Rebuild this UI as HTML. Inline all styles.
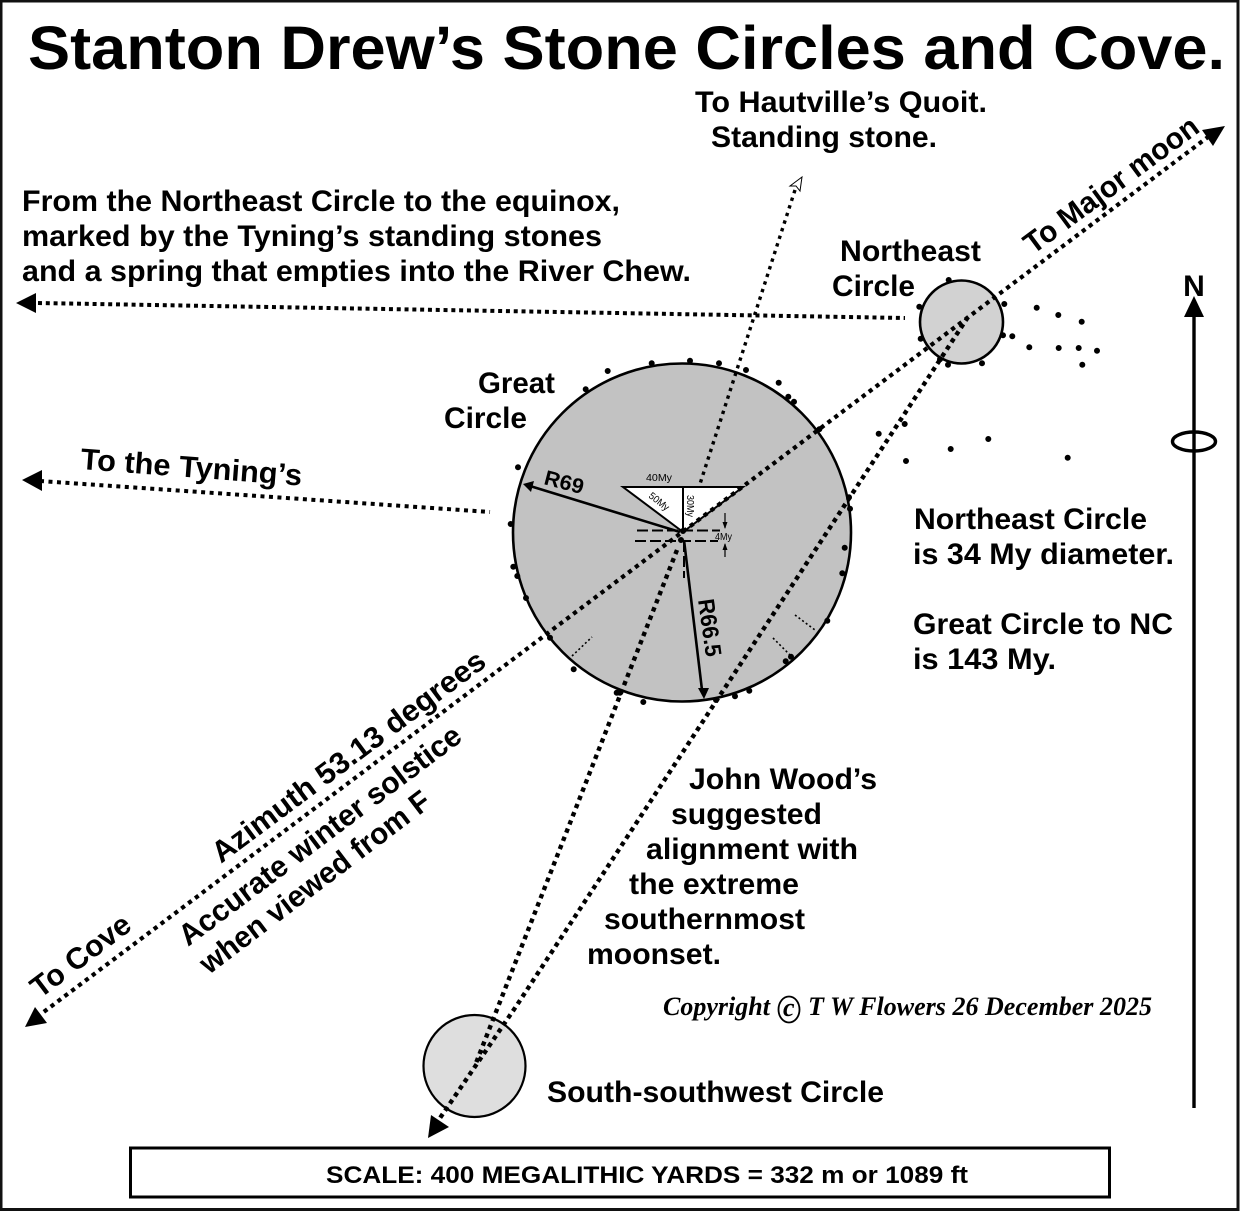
<!DOCTYPE html>
<html lang="en"><head><meta charset="utf-8"><title>Stanton Drew's Stone Circles and Cove</title>
<style>
html,body{margin:0;padding:0;background:#fff}
svg{display:block}
text{font-family:"Liberation Sans",sans-serif;font-weight:bold;fill:#000}
.t{font-size:30px}
.s{font-size:10px;font-weight:normal}
.c{font-family:"Liberation Serif",serif;font-size:26px;font-style:italic}
</style></head><body>
<svg width="1240" height="1211" viewBox="0 0 1240 1211" xmlns="http://www.w3.org/2000/svg">
<rect x="1" y="1" width="1237" height="1208.5" fill="#fff" stroke="#111" stroke-width="3"/>
<text x="28" y="69" font-size="61" textLength="1197" lengthAdjust="spacingAndGlyphs">Stanton Drew’s Stone Circles and Cove.</text>

<circle cx="682" cy="532.5" r="169" fill="#c2c2c2" stroke="#000" stroke-width="2.6"/>
<circle cx="961.5" cy="322" r="41.5" fill="#d2d2d2" stroke="#000" stroke-width="2.6"/>
<circle cx="474.5" cy="1066" r="51" fill="#dedede" stroke="#000" stroke-width="2.2"/>

<polygon points="623,487 743,487 683,532" fill="#fff" stroke="#000" stroke-width="2"/>
<line x1="683" y1="487" x2="683" y2="532" stroke="#000" stroke-width="2"/>

<g fill="none" stroke="#000" stroke-linecap="butt">
<path d="M37,1017 L1208,137" stroke-width="4.200" stroke-dasharray="4.200 4.400"/>
<path d="M968,317 L517,1005 L440,1118" stroke-width="4.400" stroke-dasharray="4.400 4.200"/>
<path d="M677,550 L476,1063" stroke-width="4.400" stroke-dasharray="4.400 4.400"/>
<path d="M38,303 L905,318" stroke-width="4" stroke-dasharray="4 3.800"/>
<path d="M40,481 L490,512" stroke-width="4" stroke-dasharray="4 4.500"/>
<path d="M795,190 L699,487" stroke-width="3.400" stroke-dasharray="3.400 4.600"/>
<path d="M572,656 L592,637 M795,615 L815,630 M773,638 L790,655" stroke-width="1.600" stroke-dasharray="2 2.500"/>
<path d="M637,530.500 H720 M635,541 H718 M684,541 V578" stroke-width="2" stroke-dasharray="11 4"/>
<path d="M680,532 L530,486 M684,540 L702,690" stroke-width="2.600"/>
<path d="M725,513 V528 M725,544 V557" stroke-width="1.200"/>
<path d="M1194,310 V1108" stroke-width="3.400"/>
<ellipse cx="1194" cy="441.500" rx="21.500" ry="9.500" stroke-width="3.400"/>
</g>

<g fill="#000">
<polygon points="25,1027 35,1007 47,1023"/>
<polygon points="1225,126 1202,130 1213,146"/>
<polygon points="428,1138 431,1115 449,1127"/>
<polygon points="523,484 534,481 531,492"/>
<polygon points="704,699 698,688 709,688"/>
<polygon points="16,303 36,293 36,313"/>
<polygon points="22,480 42,470 42,491"/>
<polygon points="1194,296 1184,317 1204,317"/>
<polygon points="725,529 722.500,522 727.500,522"/>
<polygon points="725,543 722.500,550 727.500,550"/>
</g>
<polygon points="802,177 790,186 796,186 800,191" fill="#fff" stroke="#000" stroke-width="1"/>

<path fill="none" stroke="#000" stroke-width="6" stroke-linecap="round" d="M651.700,363.300h0M690,360.700h0M719,363.300h0M746,370h0M778.700,382.700h0M788.300,396.700h0M794,401.700h0M819.300,429.300h0M849,497.300h0M850,508.700h0M844.700,547.700h0M842.300,573.300h0M827.300,620.700h0M791,656.700h0M785.700,661.300h0M749.300,690.700h0M735,696.300h0M716,700h0M643.300,702h0M616.700,692.700h0M620,692.700h0M573.700,669.300h0M550,637.700h0M526,598h0M517.300,576h0M513.300,566.700h0M510.700,524h0M518,467.300h0M585.700,389.300h0M607.700,371h0M683,531h0M681,540h0M948.700,280h0M919.300,306.700h0M920.700,338.700h0M940,359.300h0M948,364.700h0M982,363.300h0M1003,335.300h0M1012.300,336.300h0M1004.300,304h0M1036.700,307.700h0M1058.300,315h0M1081.700,321.700h0M1029.300,347.300h0M1058.700,348h0M1078.700,348h0M1097,350.700h0M1082.300,364.700h0M904.700,424h0M878.700,433.700h0M906,461h0M950.700,449h0M988.300,439h0M1067.700,457.700h0"/>

<text class="t" x="695" y="112" textLength="292" lengthAdjust="spacingAndGlyphs">To Hautville’s Quoit.</text>
<text class="t" x="711" y="147" textLength="226" lengthAdjust="spacingAndGlyphs">Standing stone.</text>
<text class="t" x="22" y="211" textLength="598" lengthAdjust="spacingAndGlyphs">From the Northeast Circle to the equinox,</text>
<text class="t" x="22" y="246" textLength="580" lengthAdjust="spacingAndGlyphs">marked by the Tyning’s standing stones</text>
<text class="t" x="22" y="281" textLength="669" lengthAdjust="spacingAndGlyphs">and a spring that empties into the River Chew.</text>
<text class="t" x="840" y="261" textLength="141" lengthAdjust="spacingAndGlyphs">Northeast</text>
<text class="t" x="832" y="296" textLength="83" lengthAdjust="spacingAndGlyphs">Circle</text>
<text class="t" x="478" y="393" textLength="77" lengthAdjust="spacingAndGlyphs">Great</text>
<text class="t" x="444" y="428" textLength="83" lengthAdjust="spacingAndGlyphs">Circle</text>
<text class="t" x="914" y="529" textLength="233" lengthAdjust="spacingAndGlyphs">Northeast Circle</text>
<text class="t" x="913" y="564" textLength="261" lengthAdjust="spacingAndGlyphs">is 34 My diameter.</text>
<text class="t" x="913" y="634" textLength="260" lengthAdjust="spacingAndGlyphs">Great Circle to NC</text>
<text class="t" x="913" y="669" textLength="143" lengthAdjust="spacingAndGlyphs">is 143 My.</text>
<text class="t" x="689" y="789" textLength="188" lengthAdjust="spacingAndGlyphs">John Wood’s</text>
<text class="t" x="671" y="824" textLength="151" lengthAdjust="spacingAndGlyphs">suggested</text>
<text class="t" x="646" y="859" textLength="212" lengthAdjust="spacingAndGlyphs">alignment with</text>
<text class="t" x="629" y="894" textLength="170" lengthAdjust="spacingAndGlyphs">the extreme</text>
<text class="t" x="604" y="929" textLength="201" lengthAdjust="spacingAndGlyphs">southernmost</text>
<text class="t" x="587" y="964" textLength="134" lengthAdjust="spacingAndGlyphs">moonset.</text>
<text class="t" x="547" y="1102" textLength="337" lengthAdjust="spacingAndGlyphs">South-southwest Circle</text>
<text x="1194" y="296" font-size="30" text-anchor="middle">N</text>

<text class="c" x="663" y="1015" textLength="107" lengthAdjust="spacingAndGlyphs">Copyright</text>
<ellipse cx="789" cy="1009.500" rx="10.500" ry="13" fill="none" stroke="#000" stroke-width="1.800"/>
<text class="c" x="783" y="1016">c</text>
<text class="c" x="808" y="1015" textLength="344" lengthAdjust="spacingAndGlyphs">T W Flowers 26 December 2025</text>

<rect x="130.500" y="1148" width="979" height="49" fill="#fff" stroke="#000" stroke-width="3"/>
<text x="326" y="1183" font-size="24" textLength="642" lengthAdjust="spacingAndGlyphs">SCALE: 400 MEGALITHIC YARDS = 332 m or 1089 ft</text>

<text class="t" transform="translate(80,469) rotate(4.300)" textLength="222" lengthAdjust="spacingAndGlyphs">To the Tyning’s</text>
<text class="t" transform="translate(1033,255) rotate(-36.400)" textLength="209" lengthAdjust="spacingAndGlyphs">To Major moon</text>
<text class="t" transform="translate(40,999) rotate(-37)" textLength="117" lengthAdjust="spacingAndGlyphs">To Cove</text>
<text class="t" transform="translate(221,864) rotate(-36.700)" textLength="333" lengthAdjust="spacingAndGlyphs">Azimuth 53.13 degrees</text>
<text class="t" transform="translate(188,947) rotate(-36.900)" textLength="345" lengthAdjust="spacingAndGlyphs">Accurate winter solstice</text>
<text class="t" transform="translate(209,975) rotate(-37.200)" textLength="281" lengthAdjust="spacingAndGlyphs">when viewed from F</text>

<text transform="translate(543,484) rotate(14.700)" font-size="21" textLength="40" lengthAdjust="spacingAndGlyphs">R69</text>
<text transform="translate(698,600) rotate(82)" font-size="23" textLength="58" lengthAdjust="spacingAndGlyphs">R66.5</text>
<text class="s" x="646" y="481" textLength="26" lengthAdjust="spacingAndGlyphs">40My</text>
<text class="s" transform="translate(648,497) rotate(38)" textLength="23" lengthAdjust="spacingAndGlyphs">50My</text>
<text class="s" transform="translate(687,495) rotate(90)" textLength="22" lengthAdjust="spacingAndGlyphs">30My</text>
<text class="s" x="715" y="540" textLength="17" lengthAdjust="spacingAndGlyphs">4My</text>
</svg>
</body></html>
